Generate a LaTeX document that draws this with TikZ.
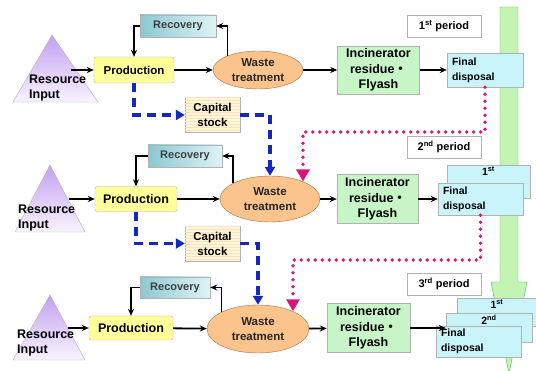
\documentclass[tikz,border=0pt]{standalone}
\usepackage{fontspec}
\setmainfont{Liberation Sans}
\newfontfamily\cjk{Noto Sans CJK JP}
\usetikzlibrary{arrows.meta, patterns, shapes.geometric}
\definecolor{prodfill}{RGB}{255,255,153}
\definecolor{recleft}{RGB}{140,200,208}
\definecolor{recright}{RGB}{222,243,245}
\definecolor{wastefill}{RGB}{250,196,140}
\definecolor{wasteline}{RGB}{170,110,60}
\definecolor{incfill}{RGB}{200,245,200}
\definecolor{finfill}{RGB}{200,244,250}
\definecolor{capfill}{RGB}{255,248,215}
\definecolor{flowgreen}{RGB}{196,244,180}
\definecolor{triviolet}{RGB}{195,160,240}
\definecolor{dotpink}{RGB}{220,20,120}
\definecolor{dashblue}{RGB}{20,40,190}

\begin{document}
\begin{tikzpicture}[x=1pt, y=-1pt, >={Stealth[length=7pt, width=6pt]},
  prodbox/.style={draw=gray!60, fill=prodfill, rounded corners=2pt, inner sep=0pt, font=\bfseries\fontsize{12.5}{14}\selectfont},
  recbox/.style={draw=gray!60, left color=recleft, right color=recright, inner sep=0pt, text=black!75, font=\bfseries\fontsize{11}{13}\selectfont},
  wastebox/.style={ellipse, draw=wasteline, fill=wastefill, inner sep=0pt, align=center, text=black!85, font=\bfseries\fontsize{11.5}{15}\selectfont},
  incbox/.style={draw=gray!60, fill=incfill, inner sep=0pt, align=center, font=\bfseries\fontsize{12.5}{15.5}\selectfont},
  finbox/.style={draw=gray!60, fill=finfill, inner xsep=5pt, inner ysep=0pt, align=left, font=\bfseries\fontsize{10.5}{15}\selectfont},
  finlabel/.style={font=\bfseries\fontsize{10.5}{12}\selectfont, anchor=north, inner sep=2pt},
  perbox/.style={draw=gray!60, fill=white, minimum width=74pt, minimum height=22pt, inner sep=0pt, font=\bfseries\fontsize{11}{13}\selectfont},
  capbox/.style={draw=gray!60, fill=capfill, postaction={pattern=horizontal lines, pattern color=orange!25}, minimum width=55pt, minimum height=35pt, inner sep=0pt, align=center, font=\bfseries\fontsize{11.5}{15}\selectfont},
  tri/.style={draw=gray!60, top color=triviolet, bottom color=triviolet!12},
  restext/.style={anchor=west, inner sep=0pt, align=left, font=\bfseries\fontsize{12.5}{15}\selectfont},
  flow/.style={line width=1.8pt, ->},
  capflow/.style={dashblue, line width=3.4pt, dash pattern=on 9pt off 6pt, -{Triangle[length=9pt, width=10pt]}},
  dumpflow/.style={dotpink, line width=3.8pt, dash pattern=on 0pt off 7pt, line cap=round, -{Triangle[length=12pt, width=13pt]}}]
\useasboundingbox (0,0) rectangle (536,371);

\filldraw[fill=flowgreen, draw=green!35!gray] (500,7) -- (518,7) -- (518,282) -- (527,282) -- (509,374) -- (491,282) -- (500,282) -- cycle;

\draw[tri] (52,35) -- (98,102) -- (13,102) -- cycle;
\node[restext] (res1) at (29,88) {Resource\\Input};
\node[prodbox, minimum width=80pt, minimum height=26pt, font=\bfseries\fontsize{11.5}{13}\selectfont] (prod1) at (134,70) {Production};
\node[recbox, minimum width=76pt, minimum height=22pt] (rec1) at (178,26) {Recovery};
\node[wastebox, minimum width=90pt, minimum height=38pt] (waste1) at (258,70) {Waste\\treatment};
\node[incbox, minimum width=82pt, minimum height=48pt] (inc1) at (378.5,70) {Incinerator\\residue{\cjk ・}\\Flyash};
\node[finbox, text width=66pt, minimum height=34pt] (fin1) at (485,70) {Final\\disposal};
\node[perbox] (per1) at (444,26) {1\textsuperscript{st} period};
\node[capbox] (cap1) at (212.5,115) {Capital\\stock};
\coordinate (in1) at (71,70);
\coordinate (dump1) at (303,132);

\draw[tri] (50,165) -- (85,232) -- (15,232) -- cycle;
\node[restext] (res2) at (18,218) {Resource\\Input};
\node[prodbox, minimum width=82pt, minimum height=25pt] (prod2) at (136,199) {Production};
\node[recbox, minimum width=74pt, minimum height=22pt] (rec2) at (185,156) {Recovery};
\node[wastebox, minimum width=100pt, minimum height=46pt] (waste2) at (270,199) {Waste\\treatment};
\node[incbox, minimum width=81pt, minimum height=49pt] (inc2) at (377.5,199) {Incinerator\\residue{\cjk ・}\\Flyash};
\node[finbox, text width=73pt, minimum height=33pt, label={[finlabel]north:1\textsuperscript{st}}] (fin2b) at (488.5,181.5) {};
\node[finbox, text width=75pt, minimum height=32pt] (fin2) at (480.5,199) {Final\\disposal};
\node[perbox] (per2) at (444,147) {2\textsuperscript{nd} period};
\node[capbox] (cap2) at (212.5,243.5) {Capital\\stock};
\coordinate (in2) at (69,199);
\coordinate (dump2) at (293,260);

\draw[tri] (50,295) -- (85,360) -- (13,360) -- cycle;
\node[restext] (res3) at (17,343) {Resource\\Input};
\node[prodbox, minimum width=84pt, minimum height=24pt] (prod3) at (131,328) {Production};
\node[recbox, minimum width=70pt, minimum height=21pt] (rec3) at (175,287.5) {Recovery};
\node[wastebox, minimum width=102pt, minimum height=48pt] (waste3) at (258,329) {Waste\\treatment};
\node[incbox, minimum width=83pt, minimum height=49pt] (inc3) at (368.5,328) {Incinerator\\residue{\cjk ・}\\Flyash};
\node[finbox, text width=70pt, minimum height=28pt, label={[finlabel]north:1\textsuperscript{st}}] (fin3a) at (497,312) {};
\node[finbox, text width=76pt, minimum height=29pt, label={[finlabel]north:2\textsuperscript{nd}}] (fin3b) at (489,327.5) {};
\node[finbox, text width=75pt, minimum height=31pt] (fin3) at (478.5,341.5) {Final\\disposal};
\node[perbox] (per3) at (444,284) {3\textsuperscript{rd} period};
\coordinate (in3) at (68,328);

\draw[flow] (in1) -- (prod1);
\draw[flow] (prod1) -- (waste1);
\draw[flow] (waste1) -- (inc1);
\draw[flow] (inc1) -- (fin1);
\draw[flow] (waste1.155) |- (rec1);
\draw[flow] (rec1) -| (prod1);
\draw[capflow] (prod1) |- (cap1);
\draw[capflow] (cap1) -| (waste2);
\draw[dumpflow] (fin1) |- (dump1) -- (dump1 |- waste2.28);

\draw[flow] (in2) -- (prod2);
\draw[flow] (prod2) -- (waste2);
\draw[flow] (waste2) -- (inc2);
\draw[flow] (inc2) -- (fin2);
\draw[flow] (waste2.157) |- (rec2);
\draw[flow] (rec2) -| (prod2);
\draw[capflow] (prod2) |- (cap2);
\draw[capflow] (cap2) -| (waste3);
\draw[dumpflow] (fin2) |- (dump2) -- (dump2 |- waste3.27);

\draw[flow] (in3) -- (prod3);
\draw[flow] (prod3) -- (waste3);
\draw[flow] (waste3) -- (inc3);
\draw[flow] (inc3) -- (inc3 -| fin3b.west);
\draw[flow] (waste3.155) |- (rec3);
\draw[flow] (rec3) -| (prod3);
\end{tikzpicture}
\end{document}
